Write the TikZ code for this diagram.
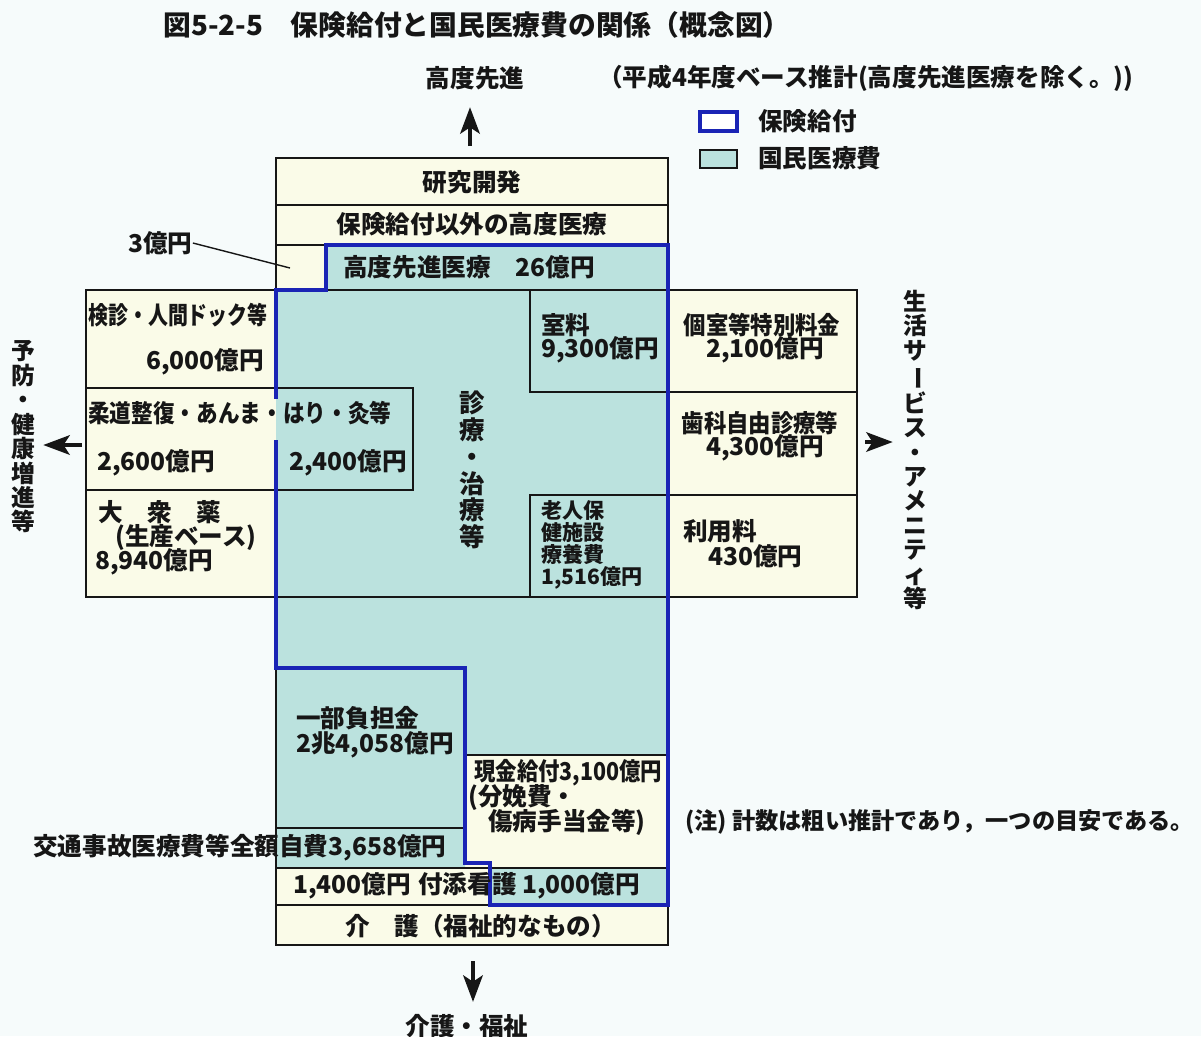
\documentclass[tikz,border=0pt]{standalone}
\usepackage{fontspec}
\newfontfamily\jp{Noto Sans CJK JP}
\usetikzlibrary{arrows.meta}
\definecolor{bgc}{HTML}{F6FBFB}
\definecolor{cream}{HTML}{FAFBE8}
\definecolor{tealc}{HTML}{BBE2DE}
\definecolor{blueln}{HTML}{1A24B5}
\definecolor{ink}{HTML}{161616}
\begin{document}
\begin{tikzpicture}[x=0.02cm,y=-0.02cm,
  bl/.style={draw=ink,line width=1.1pt},
  bluel/.style={draw=blueln,line width=2.1pt,line join=miter},
  tx/.style={inner sep=0pt,anchor=west,text=ink,font=\jp\bfseries\fontsize{14}{16}\selectfont},
  tc/.style={tx,anchor=center},
  vt/.style={inner sep=0pt,align=center,text=ink,font=\jp\bfseries\fontsize{13.5}{13.9}\selectfont},
  arr/.style={draw=ink,line width=2.6pt,-{Stealth[length=15pt,width=11pt,inset=3.5pt]}}]
\fill[bgc] (0,0) rectangle (1201,1036);
\useasboundingbox (0,0) rectangle (1201,1036);

% fills
\fill[cream] (276,158) -- (668,158) -- (668,290) -- (857,290) -- (857,597) -- (668,597) -- (668,945) -- (276,945) -- (276,597) -- (86,597) -- (86,290) -- (276,290) -- cycle;
\fill[tealc] (326,245) -- (668,245) -- (668,755) -- (465,755) -- (465,868) -- (276,868) -- (276,290) -- (326,290) -- cycle;
\fill[tealc] (490,868) rectangle (668,905);

% black lines
\draw[bl] (276,158) -- (668,158) -- (668,290) -- (857,290) -- (857,597) -- (668,597) -- (668,945) -- (276,945) -- (276,597) -- (86,597) -- (86,290) -- (276,290) -- cycle;
\draw[bl] (276,205) -- (668,205);
\draw[bl] (276,245) -- (668,245);
\draw[bl] (276,290) -- (668,290);
\draw[bl] (276,597) -- (668,597);
\draw[bl] (326,245) -- (326,290);
\draw[bl] (86,388) -- (413,388) -- (413,490) -- (86,490);
\draw[bl] (276,290) -- (276,388);
\draw[bl] (276,490) -- (276,597);
\draw[bl] (530,290) -- (530,392) -- (857,392);
\draw[bl] (530,597) -- (530,495) -- (857,495);
\draw[bl] (668,290) -- (668,597);
\draw[bl] (276,828) -- (465,828);
\draw[bl] (465,755) -- (668,755);
\draw[bl] (276,868) -- (668,868);
\draw[bl] (276,905) -- (668,905);

% blue outline (insurance benefits)
\draw[bluel] (276,440) -- (276,668) -- (465,668) -- (465,863) -- (490,863) -- (490,905) -- (668,905) -- (668,245) -- (326,245) -- (326,290) -- (276,290) -- (276,399);

% title and header
\node[tx,font=\jp\bfseries\fontsize{15.8}{18}\selectfont] (title) at (163,25) {図5-2-5　保険給付と国民医療費の関係（概念図）};
\node[tc] (sentan) at (475,78) {高度先進};
\node[tx] (sub) at (598,78) {（平成4年度ベース推計(高度先進医療を除く。))};
\draw[draw=blueln,line width=2pt,fill=white] (700,112) rectangle (737,131);
\node[tx] (lg1) at (758,121) {保険給付};
\draw[draw=ink,line width=1pt,fill=tealc] (700,150) rectangle (737,168);
\node[tx] (lg2) at (758,158) {国民医療費};

% central column
\node[tc] (kenkyu) at (472,182) {研究開発};
\node[tc] (igai) at (472,224) {保険給付以外の高度医療};
\node[tx] (senshin) at (343,267) {高度先進医療　26億円};
\node[tx] (oku3) at (128,243) {3億円};
\draw[draw=ink,line width=0.8pt] (oku3.east) -- (290,268);

% left boxes
\node[tx] (kenshin) at (88,315) {\scalebox{0.81}[1]{検診・人間ドック等}};
\node[tx] (k6000) at (146,362) {6,000億円};
\node[tx] (judo) at (88,413) {\scalebox{0.88}[1]{柔道整復・あんま・はり・灸等}};
\node[tx] (j2600) at (97,463) {2,600億円};
\node[tx] (j2400) at (289,463) {2,400億円};
\node[tx] (taishu) at (98,512) {大　衆　薬};
\node[tx] (seisan) at (115,537) {(生産ベース)};
\node[tx] (t8940) at (95,562) {8,940億円};

% center vertical
\node[vt,font=\jp\bfseries\fontsize{14.5}{15.3}\selectfont] (shinryo) at (472,470) {診\\療\\・\\治\\療\\等};

% right inner boxes
\node[tx] (shitsu) at (541,325) {室料};
\node[tx] (s9300) at (541,350) {9,300億円};
\node[tx,align=left,font=\jp\bfseries\fontsize{12}{12.6}\selectfont,anchor=north west] (roujin) at (541,500) {老人保\\健施設\\療養費\\1,516億円};

% right boxes
\node[tc] (koshitsu) at (762,325) {\scalebox{0.91}[1]{個室等特別料金}};
\node[tc] (k2100) at (765,350) {2,100億円};
\node[tc] (shika) at (760,423) {\scalebox{0.91}[1]{歯科自由診療等}};
\node[tc] (s4300) at (765,448) {4,300億円};
\node[tx] (riyo) at (683,531) {利用料};
\node[tx] (r430) at (708,556) {430億円};

% lower column
\node[tx] (ichibu) at (296,718) {一部負担金};
\node[tx] (i24058) at (296,745) {2兆4,058億円};
\node[tx] (genkin) at (474,773) {\scalebox{0.87}[1]{現金給付3,100億円}};
\node[tx] (bunben) at (468,797) {(分娩費・};
\node[tx] (shobyo) at (488,822) {傷病手当金等)};
\node[tx,font=\jp\bfseries\fontsize{13.2}{16}\selectfont] (chu) at (685,822) {(注) 計数は粗い推計であり，一つの目安である。};
\node[tx] (kotsu) at (33,848) {交通事故医療費等全額自費3,658億円};
\node[tx] (t1400) at (293,886) {1,400億円};
\node[tx] (tsukisoi) at (418,886) {付添看護 1,000億円};
\node[tx] (kaigobox) at (345,926) {介　護（福祉的なもの）};
\node[tc] (kaigo) at (467,1026) {介護・福祉};

% side labels
\node[vt] (yobo) at (23,437) {予\\防\\・\\健\\康\\増\\進\\等};
\node[vt] (seikatsu) at (915,450) {生\\活\\サ\\\rotatebox[origin=c]{-90}{ー}\\ビ\\ス\\・\\ア\\メ\\ニ\\テ\\ィ\\等};

% arrows
\coordinate (topA) at (470,146);
\coordinate (botA) at (473,961);
\coordinate (leftA) at (82,445);
\coordinate (rightA) at (865,442);
\draw[arr,shorten >=0.34cm] (topA) -- (sentan.south -| topA);
\draw[arr,shorten >=0.24cm] (botA) -- (kaigo.north -| botA);
\draw[arr,shorten >=0.16cm] (leftA) -- (leftA -| yobo.east);
\draw[arr,shorten >=0.2cm] (rightA) -- (rightA -| seikatsu.west);
\end{tikzpicture}
\end{document}
